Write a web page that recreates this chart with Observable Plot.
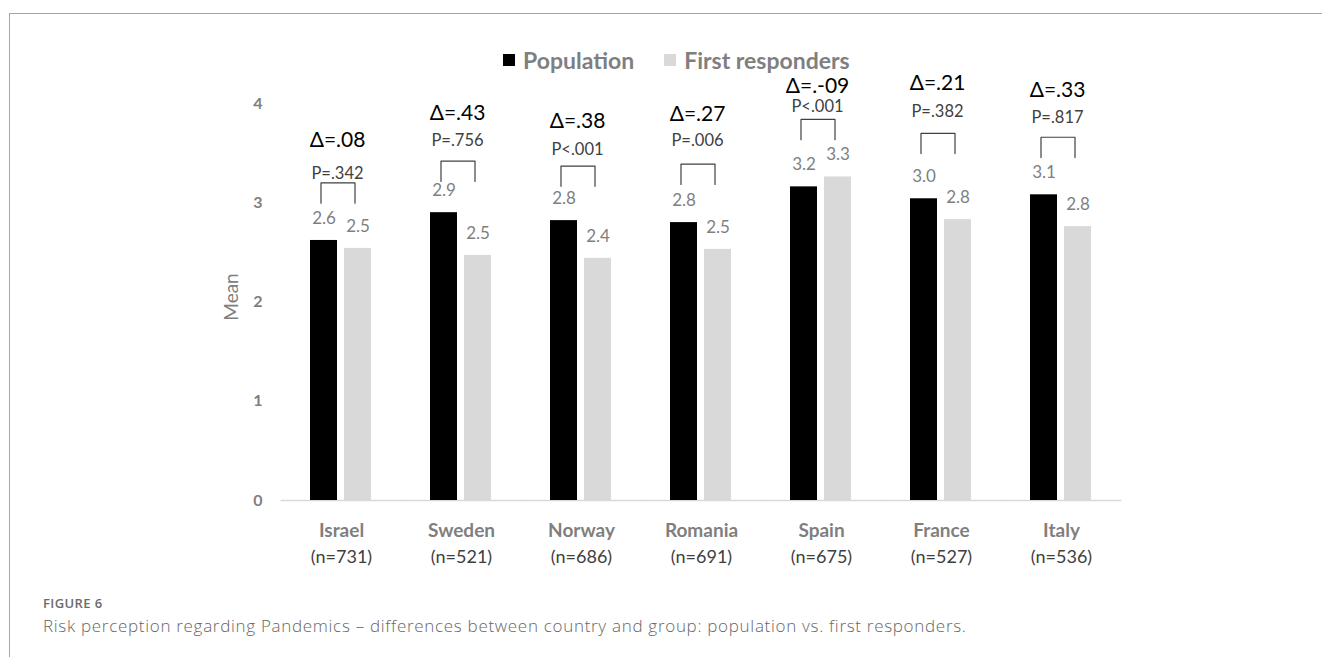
<!DOCTYPE html>
<html>
<head>
<meta charset="utf-8">
<script src="https://cdn.jsdelivr.net/npm/d3@7"></script>
<script src="https://cdn.jsdelivr.net/npm/@observablehq/plot@0.6"></script>
<style>
  html, body { margin: 0; padding: 0; background: #fff; }
  body { width: 1322px; height: 657px; position: relative; overflow: hidden; font-family: Lato, "Open Sans", sans-serif; }
  #frame { position: absolute; left: 9px; top: 13px; right: -2px; bottom: -2px; border-top: 1.5px solid #a6a6a6; border-left: 1.5px solid #a6a6a6; }
  #legend { position: absolute; left: 503px; top: 46px; display: flex; align-items: center; font-weight: 700; font-size: 23px; color: #7f7f7f; }
  #legend .sw { width: 12px; height: 12px; display: inline-block; margin-right: 8px; }
  #legend .item { display: flex; align-items: center; margin-right: 30px; }
  #chart { position: absolute; left: 0; top: 72px; }
  #ytitle { position: absolute; left: 230px; top: 297px; transform: translate(-50%, -50%) rotate(-90deg); font-size: 19px; color: #7f7f7f; white-space: nowrap; }
  #fig { position: absolute; left: 43px; top: 594px; font-family: "Open Sans", sans-serif; font-size: 13px; letter-spacing: 0.4px; font-weight: 600; color: #6b6b6b; }
  #caption { position: absolute; left: 43px; top: 614px; font-family: "Open Sans", sans-serif; font-size: 17px; letter-spacing: 0.7px; font-weight: 300; color: #666; white-space: nowrap; }
</style>
</head>
<body>
<div id="frame"></div>
<div id="legend"></div>
<div id="chart"></div>
<div id="ytitle">Mean</div>
<div id="fig">FIGURE 6</div>
<div id="caption">Risk perception regarding Pandemics – differences between country and group: population vs. first responders.</div>
<script>
const countries = ["Israel", "Sweden", "Norway", "Romania", "Spain", "France", "Italy"];
const sampleSizes = [731, 521, 686, 691, 675, 527, 536];
const groups = ["Population", "First responders"];
const groupColors = ["#000000", "#d9d9d9"];
const population = [2.62, 2.90, 2.82, 2.80, 3.16, 3.04, 3.08];
const firstResponders = [2.54, 2.47, 2.44, 2.53, 3.26, 2.83, 2.76];
const deltaLabels = ["Δ=.08", "Δ=.43", "Δ=.38", "Δ=.27", "Δ=.-09", "Δ=.21", "Δ=.33"];
const pLabels = ["P=.342", "P=.756", "P<.001", "P=.006", "P<.001", "P=.382", "P=.817"];
// annotation anchors (mean scale)
const deltaY = [3.63, 3.90, 3.82, 3.89, 4.17, 4.20, 4.13];
const pY = [3.29, 3.63, 3.53, 3.62, 3.97, 3.92, 3.86];
const bracketTop = [3.20, 3.42, 3.37, 3.39, 3.84, 3.70, 3.66];
const bracketLeg = 0.205;
const yTicks = [0, 1, 2, 3, 4];

const rows = [];
countries.forEach((c, i) => {
  rows.push({country: c, group: groups[0], value: population[i]});
  rows.push({country: c, group: groups[1], value: firstResponders[i]});
});
const brackets = [];
countries.forEach((c, i) => {
  brackets.push({country: c, group: groups[0], y: bracketTop[i] - bracketLeg});
  brackets.push({country: c, group: groups[0], y: bracketTop[i]});
  brackets.push({country: c, group: groups[1], y: bracketTop[i]});
  brackets.push({country: c, group: groups[1], y: bracketTop[i] - bracketLeg});
});
const annot = countries.map((c, i) => ({country: c, n: sampleSizes[i], delta: deltaLabels[i], p: pLabels[i], dy: deltaY[i], py: pY[i]}));

// legend
const legend = document.getElementById("legend");
groups.forEach((g, i) => {
  const item = document.createElement("span");
  item.className = "item";
  item.innerHTML = `<span class="sw" style="background:${groupColors[i]}"></span>${g}`;
  legend.appendChild(item);
});

const chart = Plot.plot({
  width: 1322,
  height: 498,
  marginLeft: 280,
  marginRight: 200,
  marginTop: 31,
  marginBottom: 70,
  style: {fontFamily: "Lato, sans-serif", overflow: "visible", background: "transparent"},
  fx: {domain: countries, paddingInner: 0.485, paddingOuter: 0.237, axis: null, label: null},
  x: {domain: groups, paddingInner: 0.2, paddingOuter: 0, axis: null, label: null},
  y: {domain: [0, 4], axis: null},
  color: {domain: groups, range: groupColors},
  marks: [
    Plot.axisY({ticks: yTicks, tickSize: 0, tickPadding: 48, tickFormat: d => String(d), label: null,
      fontSize: 16, fontWeight: 700, fill: "#7f7f7f"}),
    Plot.ruleY([0], {stroke: "#d9d9d9", strokeWidth: 1.5, insetLeft: -29.3, insetRight: -29.3}),
    Plot.barY(rows, {fx: "country", x: "group", y: "value", fill: "group"}),
    Plot.text(rows, {fx: "country", x: "group", y: "value", text: d => d.value.toFixed(1), dy: -22, fontSize: 17, fill: "#7f7f7f"}),
    Plot.line(brackets, {fx: "country", x: "group", y: "y", z: "country", stroke: "#404040", strokeWidth: 1.2, dx: -3}),
    Plot.text(annot, {fx: "country", y: "py", text: "p", fontSize: 16.5, fill: "#404040", dx: -4}),
    Plot.text(annot, {fx: "country", y: "dy", text: "delta", fontSize: 21, fill: "#000", dx: -4}),
    Plot.text(annot, {fx: "country", text: "country", frameAnchor: "bottom", lineAnchor: "middle", dy: 30, fontSize: 19, fontWeight: 700, fill: "#7f7f7f"}),
    Plot.text(annot, {fx: "country", text: d => `(n=${d.n})`, frameAnchor: "bottom", lineAnchor: "middle", dy: 57, fontSize: 18, fill: "#404040"})
  ]
});
document.getElementById("chart").appendChild(chart);
</script>
</body>
</html>
